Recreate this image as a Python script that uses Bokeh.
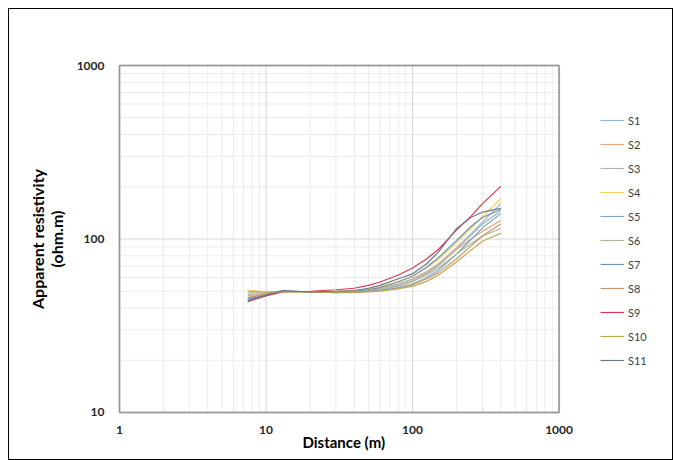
from bokeh.plotting import figure
from bokeh.models import (FixedTicker, PrintfTickFormatter, Legend, LegendItem,
                          ColumnDataSource, BoxAnnotation, Title)
from bokeh.embed import file_html
from bokeh.resources import INLINE

distance = [7.5, 10, 13, 20, 30, 40, 50, 60, 80, 100, 125, 150, 200, 250, 300, 400]

S1 = [46, 48, 50, 49.5, 49.5, 49.5, 50, 51, 53.5, 57, 63, 70, 88, 105, 122, 145]
S2 = [47, 48.5, 50, 49.5, 49.5, 50, 51, 52, 55, 58.5, 64, 71, 87, 100, 111, 128]
S3 = [48, 48.5, 50, 49.5, 49.5, 50, 51, 52, 55, 59, 65, 72, 89, 107, 125, 160]
S4 = [51, 49.5, 49.5, 49.5, 50, 50.5, 51.5, 53, 57, 61, 68, 76, 95, 115, 135, 170]
S5 = [45, 47.5, 50, 49.5, 49, 49.5, 50, 50.5, 52.5, 55, 60, 66, 82, 99, 116, 140]
S6 = [49, 49, 50, 49.5, 49.5, 50, 50.5, 51.5, 54, 57, 62, 68, 82, 94, 104, 115]
S7 = [45, 48, 50.5, 49.5, 49.5, 50, 51, 52.5, 56.5, 61, 69, 78, 98, 118, 133, 148]
S8 = [46, 48, 50, 49.5, 49.5, 49.5, 50, 50.5, 52, 54.5, 59, 64, 77, 91, 104, 122]
S9 = [43.5, 47, 49.5, 50, 51, 52, 54, 56.5, 62, 68, 77, 87, 113, 135, 160, 201]
S10 = [50, 49.5, 49.5, 49.5, 49, 49, 49.5, 50, 51.5, 53.5, 57, 62, 74, 86, 97, 108]
S11 = [44, 47.5, 50.5, 49.5, 50, 50.5, 52, 54, 59, 63, 72, 84, 115, 133, 143, 150]

series_names = ["S1", "S2", "S3", "S4", "S5", "S6", "S7", "S8", "S9", "S10", "S11"]
series_values = [S1, S2, S3, S4, S5, S6, S7, S8, S9, S10, S11]
colors = ["#8fb3d3", "#e9a77c", "#b3b3b3", "#f2d55a", "#80a6c8", "#a8bb94",
          "#6f93b0", "#c99670", "#dc3a52", "#bba94e", "#6c7890"]

X_MIN, X_MAX = 1, 1000
Y_MIN, Y_MAX = 10, 1000
x_major = [1, 10, 100, 1000]
y_major = [10, 100, 1000]
x_minor = [m * 10 ** k for k in range(0, 3) for m in range(2, 10)]
y_minor = [m * 10 ** k for k in range(1, 3) for m in range(2, 10)]

FONT = "Lato"

# geometry (pixels): chart box 438 x 345, frame extends right to hold the legend
PX_DEC_X = 438 / 3
PX_DEC_Y = 345 / 2
PAD = 2
FRAME_W = 555
x_range = (10 ** (-PAD / PX_DEC_X), 10 ** ((FRAME_W - PAD) / PX_DEC_X))
y_range = (10 ** (1 - PAD / PX_DEC_Y), 10 ** (3 + PAD / PX_DEC_Y))

p = figure(width=665, height=452, x_axis_type="log", y_axis_type="log",
           x_range=x_range, y_range=y_range,
           output_backend="svg", toolbar_location=None,
           min_border_left=108, min_border_top=54, min_border_right=0, min_border_bottom=47)
p.styles = {"border": "1px solid black", "box-sizing": "border-box",
            "margin-left": "8px", "margin-top": "8px"}
p.outline_line_color = None
p.background_fill_color = "white"
p.border_fill_color = "white"
p.xgrid.visible = False
p.ygrid.visible = False

p.xaxis.ticker = FixedTicker(ticks=x_major, minor_ticks=[])
p.yaxis.ticker = FixedTicker(ticks=y_major, minor_ticks=[])
for ax in (p.xaxis, p.yaxis):
    ax.formatter = PrintfTickFormatter(format="%d")
    ax.axis_line_color = None
    ax.major_tick_line_color = None
    ax.minor_tick_line_color = None
    ax.major_tick_out = 0
    ax.major_tick_in = 0
    ax.minor_tick_out = 0
    ax.major_label_text_font = FONT
    ax.major_label_text_font_style = "bold"
    ax.major_label_text_font_size = "12px"
    ax.major_label_text_color = "#262626"
    ax.axis_label_text_font = FONT
    ax.axis_label_text_font_style = "bold"
    ax.axis_label_text_color = "#000000"
p.xaxis.major_label_standoff = 11
p.yaxis.major_label_standoff = 13
p.yaxis.axis_label = "Apparent resistivity\n(ohm.m)"
p.yaxis.axis_label_text_font_size = "16px"
p.yaxis.axis_label_text_line_height = 1.0
p.yaxis.axis_label_standoff = 8

# x-axis title centred under the chart box (the frame extends right for the legend)
xtitle = Title(text="Distance (m)", align="left", offset=185, standoff=-11,
               text_font=FONT, text_font_style="bold", text_font_size="15px",
               text_color="#000000")
p.add_layout(xtitle, "below")

# grid lines restricted to the chart box
p.segment(x0=x_minor, x1=x_minor, y0=[Y_MIN] * len(x_minor), y1=[Y_MAX] * len(x_minor),
          line_color="#ececec", line_width=1)
p.segment(x0=[X_MIN] * len(y_minor), x1=[X_MAX] * len(y_minor), y0=y_minor, y1=y_minor,
          line_color="#ececec", line_width=1)
p.segment(x0=x_major, x1=x_major, y0=[Y_MIN] * len(x_major), y1=[Y_MAX] * len(x_major),
          line_color="#d6d6d6", line_width=1)
p.segment(x0=[X_MIN] * len(y_major), x1=[X_MAX] * len(y_major), y0=y_major, y1=y_major,
          line_color="#d6d6d6", line_width=1)

items = []
for name, vals, c in zip(series_names, series_values, colors):
    src = ColumnDataSource(dict(x=distance, y=vals))
    r = p.line("x", "y", source=src, line_color=c, line_width=1.2)
    items.append(LegendItem(label=name, renderers=[r]))

box = BoxAnnotation(left=X_MIN, right=X_MAX, bottom=Y_MIN, top=Y_MAX,
                    fill_color=None, line_color="black", line_width=2)
p.add_layout(box)

legend = Legend(items=items, location=(483, 46), orientation="vertical",
                glyph_width=24, glyph_height=16, label_height=16, spacing=8,
                label_standoff=4, padding=0, margin=0,
                border_line_color=None, background_fill_alpha=0,
                label_text_font=FONT, label_text_font_size="11px", label_text_color="#404040")
p.add_layout(legend, "center")

open("out.html", "w").write(file_html(p, INLINE))
